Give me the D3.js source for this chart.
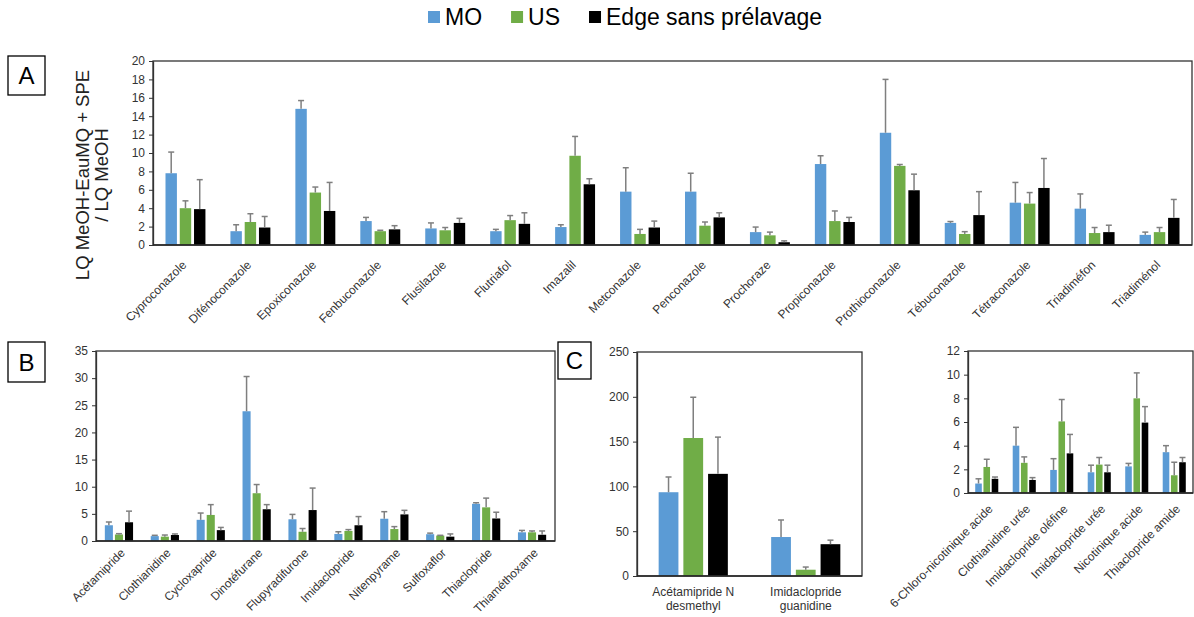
<!DOCTYPE html>
<html>
<head>
<meta charset="utf-8">
<script src="https://cdn.jsdelivr.net/npm/d3@7"></script>
<style>
  body { margin: 0; background: #fff; }
  text { font-family: "Liberation Sans", Arial, sans-serif; }
</style>
</head>
<body>
<svg id="fig" width="1194" height="617"></svg>
<script>
"use strict";

// series
const series = ['MO', 'US', 'Edge sans prélavage'];
const colors = ['#5b9bd5', '#70ad47', '#000000'];

// panel A - triazoles
const catA = ['Cyproconazole', 'Difénoconazole', 'Epoxiconazole', 'Fenbuconazole', 'Flusilazole',
  'Flutriafol', 'Imazalil', 'Metconazole', 'Penconazole', 'Prochoraze', 'Propiconazole',
  'Prothioconazole', 'Tébuconazole', 'Tétraconazole', 'Triadiméfon', 'Triadiménol'];
const moA = [7.8, 1.5, 14.8, 2.6, 1.8, 1.5, 1.95, 5.8, 5.8, 1.4, 8.8, 12.2, 2.4, 4.6, 3.95, 1.1];
const moA_sd = [2.3, 0.7, 0.9, 0.4, 0.6, 0.2, 0.25, 2.6, 2.0, 0.55, 0.9, 5.8, 0.15, 2.2, 1.6, 0.3];
const usA = [4.0, 2.5, 5.7, 1.5, 1.6, 2.7, 9.7, 1.2, 2.1, 1.05, 2.6, 8.6, 1.2, 4.5, 1.3, 1.4];
const usA_sd = [0.8, 0.9, 0.6, 0.1, 0.3, 0.5, 2.1, 0.5, 0.4, 0.35, 1.1, 0.15, 0.25, 1.2, 0.6, 0.5];
const edgeA = [3.9, 1.9, 3.7, 1.7, 2.4, 2.3, 6.6, 1.9, 3.0, 0.3, 2.5, 5.95, 3.25, 6.2, 1.4, 2.95];
const edgeA_sd = [3.2, 1.2, 3.1, 0.4, 0.5, 1.2, 0.6, 0.7, 0.5, 0.15, 0.5, 1.75, 2.55, 3.2, 0.75, 2.0];
const ticksA = [0, 2, 4, 6, 8, 10, 12, 14, 16, 18, 20];

// panel B - neonicotinoides
const catB = ['Acétamipride', 'Clothianidine', 'Cycloxapride', 'Dinotéfurane', 'Flupyradifurone',
  'Imidaclopride', 'Nitenpyrame', 'Sulfoxaflor', 'Thiaclopride', 'Thiaméthoxame'];
const moB = [2.9, 0.9, 3.9, 23.9, 4.0, 1.3, 4.1, 1.25, 6.85, 1.6];
const moB_sd = [0.6, 0.15, 1.25, 6.4, 0.9, 0.4, 1.3, 0.2, 0.2, 0.35];
const usB = [1.2, 0.8, 4.8, 8.8, 1.7, 1.85, 2.2, 1.0, 6.2, 1.6];
const usB_sd = [0.15, 0.3, 1.9, 1.6, 0.6, 0.25, 0.45, 0.05, 1.7, 0.25];
const edgeB = [3.45, 1.1, 2.0, 5.85, 5.7, 2.9, 4.9, 0.8, 4.15, 1.15];
const edgeB_sd = [2.05, 0.2, 0.5, 0.85, 4.05, 1.6, 0.75, 0.5, 1.15, 0.7];
const ticksB = [0, 5, 10, 15, 20, 25, 30, 35];

// panel C - metabolites (high)
const catC = [['Acétamipride N', 'desmethyl'], ['Imidaclopride', 'guanidine']];
const moC = [93.5, 43.5];
const moC_sd = [17, 19];
const usC = [154, 7];
const usC_sd = [45.5, 3];
const edgeC = [114, 35.5];
const edgeC_sd = [41, 4.5];
const ticksC = [0, 50, 100, 150, 200, 250];

// panel D - metabolites (low)
const catD = ['6-Chloro-nicotinique acide', 'Clothianidine urée', 'Imidaclopride oléfine',
  'Imidaclopride urée', 'Nicotinique acide', 'Thiaclopride amide'];
const moD = [0.8, 4.0, 1.95, 1.75, 2.25, 3.45];
const moD_sd = [0.4, 1.55, 0.95, 0.6, 0.25, 0.55];
const usD = [2.2, 2.55, 6.05, 2.4, 8.0, 1.5];
const usD_sd = [0.65, 0.5, 1.85, 0.6, 2.15, 1.1];
const edgeD = [1.2, 1.1, 3.35, 1.75, 5.95, 2.6];
const edgeD_sd = [0.15, 0.2, 1.6, 0.6, 1.35, 0.4];
const ticksD = [0, 2, 4, 6, 8, 10, 12];

const svg = d3.select('#fig');

const draw_panel = (p) => {
  const g = svg.append('g');
  const keys = p.cats.map((c, i) => i);
  const x = d3.scaleBand().domain(keys).range([p.left, p.right]);
  const bw = x.bandwidth();
  const xs = d3.scaleBand().domain(series).range([-0.3075 * bw, 0.3075 * bw]).paddingInner(0.2);
  const y = d3.scaleLinear().domain([0, d3.max(p.ticks)]).range([p.bottom, p.top]);

  // bars
  series.forEach((s, si) => {
    const vals = p.vals[si], sds = p.sds[si];
    const gs = g.append('g');
    gs.selectAll('rect').data(vals).join('rect')
      .attr('x', (d, i) => x(i) + bw / 2 + xs(s))
      .attr('width', xs.bandwidth())
      .attr('y', d => y(d))
      .attr('height', d => y(0) - y(d))
      .attr('fill', colors[si]);
    // error bars
    const cx = i => x(i) + bw / 2 + xs(s) + xs.bandwidth() / 2;
    gs.selectAll('line.eb').data(vals).join('line')
      .attr('class', 'eb')
      .attr('x1', (d, i) => cx(i)).attr('x2', (d, i) => cx(i))
      .attr('y1', d => y(d)).attr('y2', (d, i) => y(d + sds[i]))
      .attr('stroke', '#7f7f7f').attr('stroke-width', 1.5);
    gs.selectAll('line.cap').data(vals).join('line')
      .attr('class', 'cap')
      .attr('x1', (d, i) => cx(i) - 3).attr('x2', (d, i) => cx(i) + 3)
      .attr('y1', (d, i) => y(d + sds[i])).attr('y2', (d, i) => y(d + sds[i]))
      .attr('stroke', '#7f7f7f').attr('stroke-width', 1.5);
  });

  // frame
  g.append('rect')
    .attr('x', p.left).attr('y', p.top)
    .attr('width', p.right - p.left).attr('height', p.bottom - p.top)
    .attr('fill', 'none').attr('stroke', '#333').attr('stroke-width', 1.3);

  // y axis
  const ya = g.append('g')
    .attr('transform', `translate(${p.left},0)`)
    .call(d3.axisLeft(y).tickValues(p.ticks).tickSize(4).tickPadding(4).tickSizeOuter(0));
  ya.select('.domain').attr('stroke', '#333').attr('stroke-width', 1.3);
  ya.selectAll('.tick line').attr('stroke', '#333');
  ya.selectAll('.tick text').attr('font-size', 12).attr('fill', '#333')
    .style('font-family', '"Liberation Sans", Arial, sans-serif');

  // x axis line
  g.append('line')
    .attr('x1', p.left).attr('x2', p.right)
    .attr('y1', p.bottom).attr('y2', p.bottom)
    .attr('stroke', '#262626').attr('stroke-width', 1.5);

  // category labels
  if (p.rotate) {
    g.selectAll('text.cat').data(p.cats).join('text')
      .attr('class', 'cat')
      .attr('transform', (d, i) => `translate(${x(i) + bw / 2 + p.lab_dx},${p.bottom + p.lab_dy}) rotate(-45)`)
      .attr('text-anchor', 'end')
      .attr('dy', '0.55em')
      .attr('font-size', p.lab_size)
      .attr('fill', '#333')
      .text(d => d);
  } else {
    const t = g.selectAll('text.cat').data(p.cats).join('text')
      .attr('class', 'cat')
      .attr('text-anchor', 'middle')
      .attr('font-size', 12)
      .attr('fill', '#333');
    t.selectAll('tspan').data((d, i) => d.map(s => ({ s, i }))).join('tspan')
      .attr('x', d => x(d.i) + bw / 2)
      .attr('y', (d, j) => p.bottom + 20 + j * 13.5)
      .text(d => d.s);
  }
};

draw_panel({ cats: catA, vals: [moA, usA, edgeA], sds: [moA_sd, usA_sd, edgeA_sd], ticks: ticksA,
  left: 153, right: 1192, top: 61, bottom: 245, rotate: true, lab_dx: -3, lab_dy: 16, lab_size: 12 });
draw_panel({ cats: catB, vals: [moB, usB, edgeB], sds: [moB_sd, usB_sd, edgeB_sd], ticks: ticksB,
  left: 96, right: 555, top: 351, bottom: 541, rotate: true, lab_dx: 2, lab_dy: 8, lab_size: 11.8 });
draw_panel({ cats: catC, vals: [moC, usC, edgeC], sds: [moC_sd, usC_sd, edgeC_sd], ticks: ticksC,
  left: 637, right: 862, top: 352, bottom: 576, rotate: false });
draw_panel({ cats: catD, vals: [moD, usD, edgeD], sds: [moD_sd, usD_sd, edgeD_sd], ticks: ticksD,
  left: 968, right: 1193, top: 351, bottom: 493, rotate: true, lab_dx: 2, lab_dy: 12, lab_size: 12 });

// y title of panel A
const yt = svg.append('text')
  .attr('transform', 'translate(89,175) rotate(-90)')
  .attr('text-anchor', 'middle')
  .attr('font-size', 18.5)
  .attr('fill', '#222');
yt.append('tspan').attr('x', 0).attr('y', 0).text('LQ MeOH-EauMQ + SPE');
yt.append('tspan').attr('x', 0).attr('y', 19).text('/ LQ MeOH');

// panel letters
const letters = [
  { t: 'A', x: 8, y: 56, w: 37, h: 39 },
  { t: 'B', x: 8, y: 342, w: 37, h: 40 },
  { t: 'C', x: 558, y: 342, w: 33, h: 37 }
];
const lg = svg.append('g').selectAll('g').data(letters).join('g');
lg.append('rect')
  .attr('x', d => d.x).attr('y', d => d.y).attr('width', d => d.w).attr('height', d => d.h)
  .attr('fill', '#fff').attr('stroke', '#000').attr('stroke-width', 1.3);
lg.append('text')
  .attr('x', d => d.x + d.w / 2).attr('y', d => d.y + d.h / 2 + 8.5)
  .attr('text-anchor', 'middle').attr('font-size', 24).attr('fill', '#000')
  .text(d => d.t);

// legend
const leg = svg.append('g');
let lx = 428;
series.forEach((s, i) => {
  leg.append('rect').attr('x', lx).attr('y', 11).attr('width', 12).attr('height', 12).attr('fill', colors[i]);
  const t = leg.append('text').attr('x', lx + 17).attr('y', 25).attr('font-size', 23).attr('fill', '#000').text(s);
  lx += 17 + t.node().getComputedTextLength() + 29;
});
</script>
</body>
</html>
